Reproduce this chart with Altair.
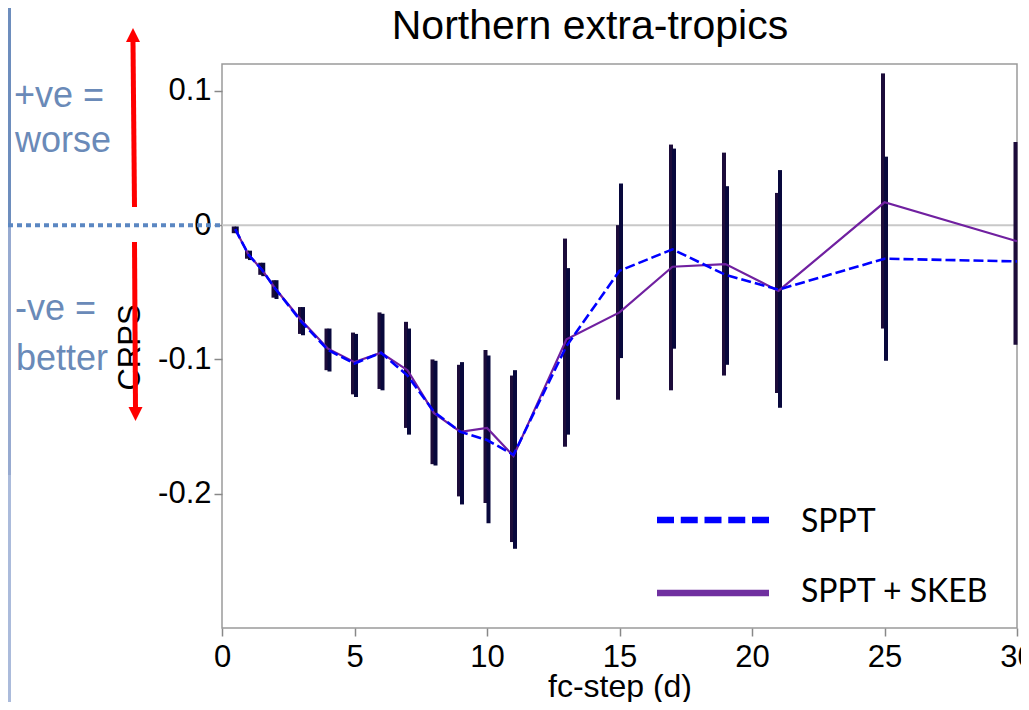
import altair as alt
import pandas as pd

# ---------------- data ----------------
steps = [0.5, 1, 1.5, 2, 3, 4, 5, 6, 7, 8, 9, 10, 11, 13, 15, 17, 19, 21, 25, 30]
series_names = ["SPPT", "SPPT + SKEB"]

sppt_mean = [-0.003, -0.022, -0.033, -0.047, -0.072, -0.093, -0.103, -0.095, -0.112, -0.139,
             -0.154, -0.160, -0.171, -0.090, -0.034, -0.018, -0.037, -0.048, -0.025, -0.027]
skeb_mean = [-0.003, -0.022, -0.033, -0.047, -0.071, -0.092, -0.102, -0.095, -0.108, -0.140,
             -0.154, -0.151, -0.172, -0.085, -0.065, -0.031, -0.029, -0.049, 0.017, -0.012]

sppt_lo = [-0.006, -0.026, -0.038, -0.055, -0.082, -0.109, -0.128, -0.123, -0.156, -0.179,
           -0.208, -0.222, -0.241, -0.156, -0.099, -0.092, -0.104, -0.136, -0.101, None]
sppt_hi = [-0.001, -0.019, -0.028, -0.041, -0.061, -0.077, -0.081, -0.066, -0.077, -0.101,
           -0.102, -0.097, -0.108, -0.032, 0.031, 0.057, 0.029, 0.041, 0.051, None]
skeb_lo = [-0.006, -0.025, -0.037, -0.054, -0.081, -0.108, -0.126, -0.122, -0.151, -0.178,
           -0.202, -0.207, -0.236, -0.165, -0.130, -0.123, -0.112, -0.125, -0.077, -0.089]
skeb_hi = [-0.001, -0.019, -0.028, -0.041, -0.061, -0.077, -0.080, -0.065, -0.072, -0.100,
           -0.104, -0.093, -0.112, -0.010, 0.000, 0.060, 0.054, 0.024, 0.113, 0.062]

x_ticks = [0, 5, 10, 15, 20, 25, 30]
y_ticks = [-0.2, -0.1, 0, 0.1]

# ---------------- tables ----------------
sppt_df = pd.DataFrame({"step": steps, "series": series_names[0], "mean": sppt_mean,
                        "lo": sppt_lo, "hi": sppt_hi})
skeb_df = pd.DataFrame({"step": steps, "series": series_names[1], "mean": skeb_mean,
                        "lo": skeb_lo, "hi": skeb_hi})
one = pd.DataFrame({"k": [0]})

FONT = "Liberation Sans"

xscale = alt.Scale(domain=[0, 30], nice=False, zero=False)
yscale = alt.Scale(domain=[-0.3, 0.12], nice=False, zero=False)

x_axis = alt.Axis(values=x_ticks, format="d", title="fc-step (d)", labelFontSize=31,
                  labelPadding=6, tickSize=8, labelFlush=False, labelOverlap=False,
                  titleFontSize=32, titleFontWeight="normal", titleY=68,
                  titleBaseline="alphabetic")
y_axis = alt.Axis(values=y_ticks, title="CRPS", labelFontSize=31, labelPadding=3,
                  tickSize=8, labelOverlap=False, labelFlush=False,
                  labelExpr="datum.value == 0 ? '0' : (datum.value < 0 ? '-' : '') + format(abs(datum.value), '.1f')",
                  titleFontSize=31, titleFontWeight="normal", titleAngle=270,
                  titleX=-92, titleY=283, titleAlign="center", titleBaseline="middle")

X = alt.X("step:Q", scale=xscale, axis=x_axis)

# zero reference line inside the plot
zero_line = alt.Chart(one).mark_rule(color="#c8c8c8", strokeWidth=2).encode(
    y=alt.Y(datum=0, scale=yscale, axis=y_axis))

# dotted blue line continuing the zero line to the left
dotted = alt.Chart(one).mark_rule(color="#5b87c2", strokeWidth=4, strokeDash=[5, 4]).encode(
    x=alt.value(-214), x2=alt.value(0), y=alt.Y(datum=0, scale=yscale, axis=y_axis))

# error bars
err_skeb = alt.Chart(skeb_df).mark_rule(strokeWidth=4, color="#1c0c3a", xOffset=-1.5).encode(
    x=X, y=alt.Y("lo:Q", scale=yscale, axis=y_axis), y2="hi:Q")
err_sppt = alt.Chart(sppt_df).mark_rule(strokeWidth=4, color="#08083c", xOffset=1.5).encode(
    x=X, y=alt.Y("lo:Q", scale=yscale, axis=y_axis), y2="hi:Q")

# mean lines
line_skeb = alt.Chart(skeb_df).mark_line(color="#7020a0", strokeWidth=2.2).encode(
    x=X, y=alt.Y("mean:Q", scale=yscale, axis=y_axis))
line_sppt = alt.Chart(sppt_df).mark_line(color="#0000ff", strokeWidth=2.6,
                                          strokeDash=[10, 4]).encode(
    x=X, y=alt.Y("mean:Q", scale=yscale, axis=y_axis))

# ---------------- annotations ----------------
def rect(x1, x2, y1, y2, color):
    return alt.Chart(one).mark_rect(color=color).encode(
        x=alt.value(x1), x2=alt.value(x2), y=alt.value(y1), y2=alt.value(y2))

strip_top = rect(-214, -211, -56, 161, "#6d8dbd")
strip_mid = rect(-214, -211, 161, 411, "#97aad0")
strip_bot = rect(-214, -211, 411, 640, "#abbbdb")

def seg(x1, x2, y1, y2, color, width, dash=None):
    kw = dict(color=color, strokeWidth=width, strokeCap="butt")
    if dash:
        kw["strokeDash"] = dash
    return alt.Chart(one).mark_rule(**kw).encode(
        x=alt.value(x1), x2=alt.value(x2), y=alt.value(y1), y2=alt.value(y2))

arrow_up = seg(-89, -87.5, -22, 143, "#ff0000", 5)
arrow_dn = seg(-87.5, -86.5, 178, 344, "#ff0000", 5)
head_up = alt.Chart(one).mark_point(shape="M0,-1L1,1L-1,1Z", size=196, filled=True,
                                     color="#ff0000", opacity=1, strokeWidth=0).encode(
    x=alt.value(-89), y=alt.value(-29))
head_dn = alt.Chart(one).mark_point(shape="M-1,-1L1,-1L0,1Z", size=196, filled=True,
                                     color="#ff0000", opacity=1, strokeWidth=0).encode(
    x=alt.value(-86.5), y=alt.value(350))

def txt(s, x, y, size, color="black", font=FONT, align="left"):
    return alt.Chart(one).mark_text(text=s, fontSize=size, font=font, color=color,
                                    align=align, baseline="alphabetic").encode(
        x=alt.value(x), y=alt.value(y))

NOTE = "#6a8ab8"
t1 = txt("+ve =", -208, 43, 36, NOTE)
t2 = txt("worse", -207, 88, 36, NOTE)
t3 = txt("-ve =", -207, 256, 36, NOTE)
t4 = txt("better", -206, 306, 36, NOTE)

title = txt("Northern extra-tropics", 368, -25, 41, align="center")

# legend
leg1 = seg(435, 547, 456, 456, "#0000ff", 6.5, [17, 6.75])
leg2 = seg(435, 547, 529, 529, "#7030a0", 6.5)
leg1t = txt(series_names[0], 579, 468, 32, font="Lato")
leg2t = txt(series_names[1], 579, 538, 32, font="Lato")

chart = alt.layer(
    strip_top, strip_mid, strip_bot, dotted, zero_line,
    err_skeb, err_sppt, line_skeb, line_sppt,
    arrow_up, arrow_dn, head_up, head_dn, t1, t2, t3, t4, title,
    leg1, leg2, leg1t, leg2t,
).properties(
    width=795, height=564,
    padding={"left": 214, "top": 56, "right": 4, "bottom": 74},
    autosize=alt.AutoSizeParams(type="none"),
).configure_view(
    stroke="#9a9a9a", strokeWidth=1.5
).configure_axis(
    labelFont=FONT, titleFont=FONT, labelColor="black", titleColor="black",
    tickColor="#888888", tickWidth=1.5, domain=False, grid=False
)

chart.save("out.html", embed_options={"renderer": "svg", "actions": False})
